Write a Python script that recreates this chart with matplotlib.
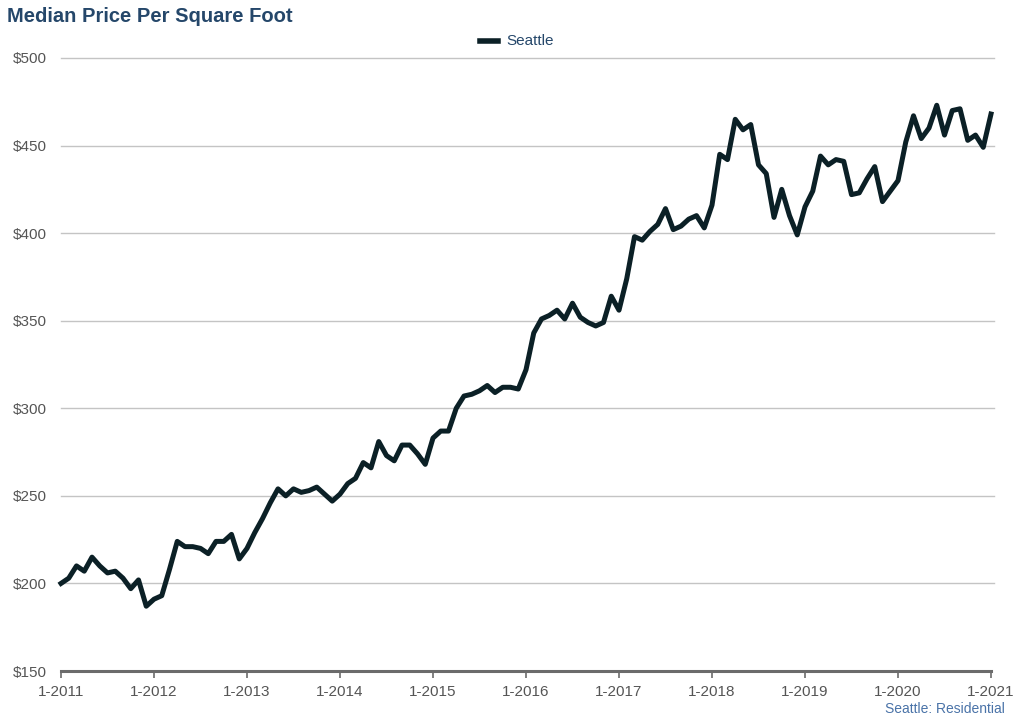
import matplotlib
matplotlib.use("Agg")
import matplotlib.pyplot as plt
from matplotlib.lines import Line2D

plt.rcParams['font.family'] = ['Liberation Sans', 'DejaVu Sans']

years = list(range(2011, 2022))
tick_labels = [f"1-{y}" for y in years]
y_ticks = [150, 200, 250, 300, 350, 400, 450, 500]

seattle_2011 = [200, 203, 210, 207, 215, 210, 206, 207, 203, 197, 202, 187]
seattle_2012 = [191, 193, 208, 224, 221, 221, 220, 217, 224, 224, 228, 214]
seattle_2013 = [220, 229, 237, 246, 254, 250, 254, 252, 253, 255, 251, 247]
seattle_2014 = [251, 257, 260, 269, 266, 281, 273, 270, 279, 279, 274, 268]
seattle_2015 = [283, 287, 287, 300, 307, 308, 310, 313, 309, 312, 312, 311]
seattle_2016 = [322, 343, 351, 353, 356, 351, 360, 352, 349, 347, 349, 364]
seattle_2017 = [356, 374, 398, 396, 401, 405, 414, 402, 404, 408, 410, 403]
seattle_2018 = [416, 445, 442, 465, 459, 462, 439, 434, 409, 425, 410, 399]
seattle_2019 = [415, 424, 444, 439, 442, 441, 422, 423, 431, 438, 418, 424]
seattle_2020 = [430, 452, 467, 454, 460, 473, 456, 470, 471, 453, 456, 449]
seattle_2021 = [468]

values = (seattle_2011 + seattle_2012 + seattle_2013 + seattle_2014 + seattle_2015 +
          seattle_2016 + seattle_2017 + seattle_2018 + seattle_2019 + seattle_2020 +
          seattle_2021)
months = list(range(len(values)))

fig = plt.figure(figsize=(10.24, 7.19), dpi=100)
ax = fig.add_axes([61/1024, 1 - 671/719, (991-61)/1024, (671-58)/719])

line_color = '#0b2026'
ax.plot(months, values, color=line_color, lw=3.6, solid_joinstyle='round', zorder=3, clip_on=False)

ax.set_xlim(0, 120)
ax.set_ylim(150, 500)
ax.set_yticks(y_ticks)
ax.set_yticklabels([f"${v}" for v in y_ticks])
ax.set_xticks([12 * i for i in range(len(years))])
ax.set_xticklabels(tick_labels)

for v in y_ticks[1:]:
    ax.axhline(v, color='#c4c4c4', lw=1.0, zorder=1, xmax=1.003, clip_on=False)

for s in ['top', 'right', 'left']:
    ax.spines[s].set_visible(False)
ax.spines['bottom'].set_color('#6b6b6b')
ax.spines['bottom'].set_linewidth(2.2)
ax.spines['bottom'].set_zorder(4)

ax.tick_params(axis='y', length=0, labelsize=11, labelcolor='#555555', pad=10)
ax.tick_params(axis='x', length=5, width=1.2, color='#6b6b6b', labelsize=11,
               labelcolor='#555555', pad=5)

fig.text(7/1024, 1 - 17/719, "Median Price Per Square Foot", fontsize=14.5,
         fontweight='bold', color='#25476a', va='center', ha='left')

fig.lines.append(Line2D([480/1024, 498/1024], [1 - 41/719, 1 - 41/719],
                        transform=fig.transFigure, color=line_color, lw=4))
fig.text(506/1024, 1 - 41/719, "Seattle", fontsize=11, color='#25476a',
         va='center', ha='left')

fig.text(1005/1024, 1 - 709/719, "Seattle: Residential", fontsize=10,
         color='#4a73a8', va='center', ha='right')

fig.savefig("out.png", dpi=100)
